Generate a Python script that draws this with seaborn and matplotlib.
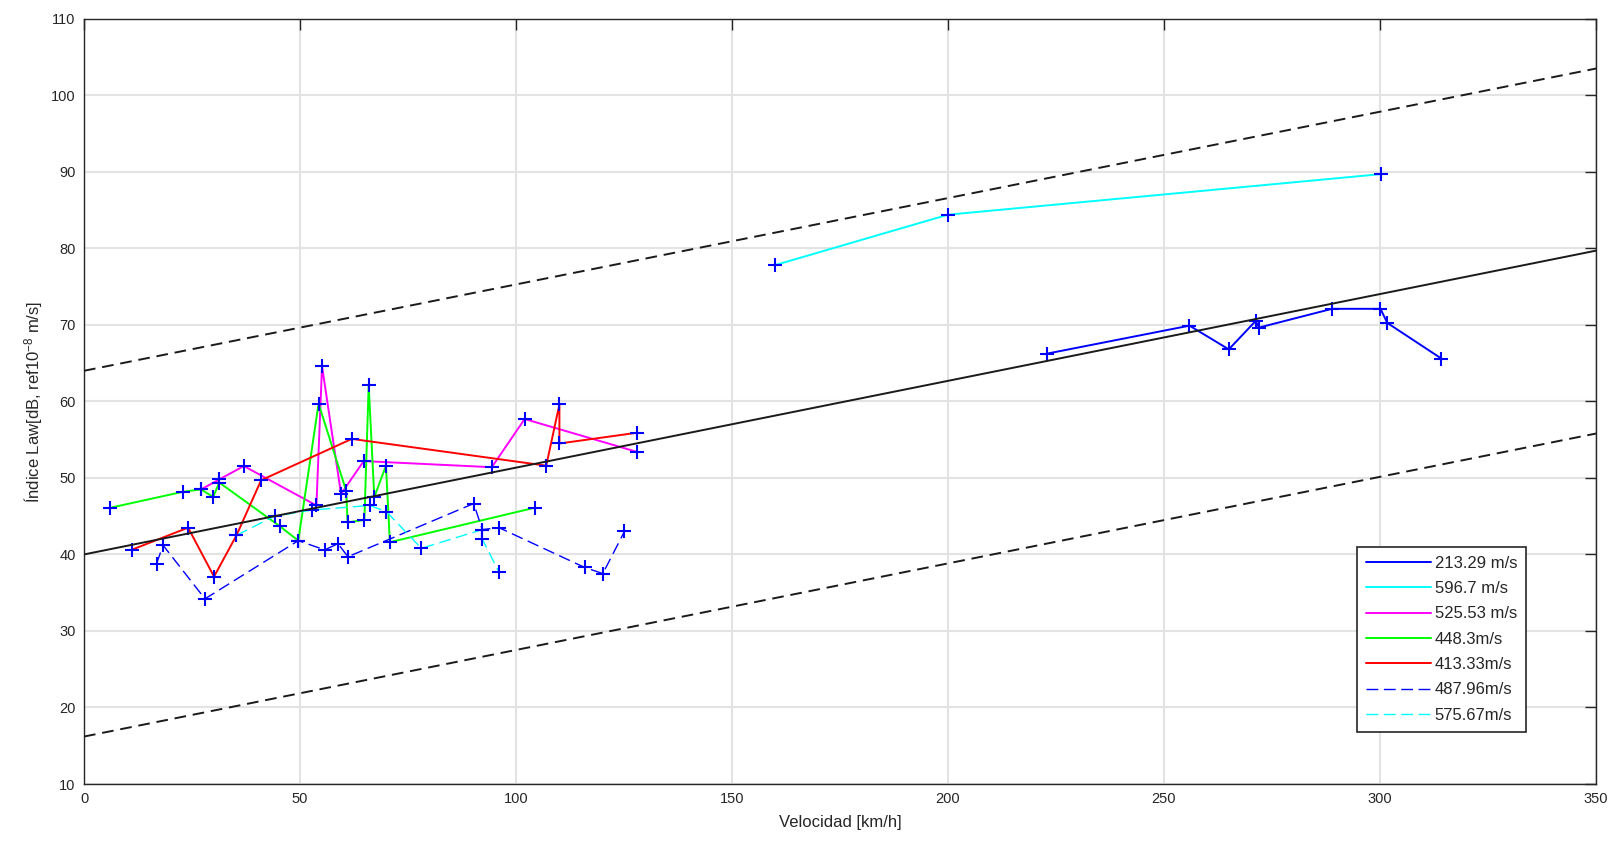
import matplotlib
matplotlib.use("Agg")
import matplotlib.pyplot as plt
import seaborn as sns
import pandas as pd

# ---- data ----
v213_x = [223.0, 255.9, 265.0, 271.2, 272.0, 288.9, 300.1, 301.7, 314.2]
v213_y = [66.25, 69.9, 66.8, 70.5, 69.65, 72.1, 72.1, 70.25, 65.6]

v596_x = [159.9, 200.0, 300.2]
v596_y = [77.8, 84.4, 89.7]

v525_x = [27.1, 31.3, 37.0, 53.8, 55.1, 59.5, 64.75, 94.4, 102.0, 128.0]
v525_y = [48.5, 49.8, 51.55, 46.4, 64.6, 47.9, 52.2, 51.4, 57.7, 53.4]

v448_x = [6.1, 23.0, 27.1, 29.9, 31.3, 45.3, 49.6, 54.3, 60.7, 61.0, 64.9, 65.9, 67.2, 69.9, 70.8, 104.3]
v448_y = [46.1, 48.2, 48.5, 47.5, 49.4, 43.7, 41.8, 59.7, 48.3, 44.2, 44.5, 62.1, 47.5, 51.6, 41.6, 46.1]

v413_x = [11.0, 24.1, 30.1, 35.3, 41.0, 62.0, 107.0, 110.05, 110.05, 128.0]
v413_y = [40.6, 43.5, 37.1, 42.5, 49.7, 55.1, 51.6, 59.6, 54.5, 55.9]

v488_x = [16.8, 18.3, 28.0, 49.6, 55.7, 58.8, 61.1, 90.2, 92.2, 96.05, 115.9, 120.1, 125.1]
v488_y = [38.8, 41.2, 34.2, 41.8, 40.6, 41.4, 39.7, 46.65, 43.25, 43.5, 38.3, 37.5, 43.0]

v576_x = [35.3, 44.1, 52.7, 66.1, 70.0, 78.1, 92.2, 92.2, 96.05]
v576_y = [42.5, 45.0, 45.8, 46.4, 45.6, 40.8, 43.25, 42.0, 37.7]
v576_tail_x = [294.5, 332.0]
v576_tail_y = [30.0, 41.0]

fit_x = [0, 350]
fit_mid = [40.0, 79.7]
fit_up = [64.0, 103.5]
fit_low = [16.2, 55.8]

labels = ["213.29 m/s", "596.7 m/s", "525.53 m/s", "448.3m/s", "413.33m/s", "487.96m/s", "575.67m/s"]
xs = [v213_x, v596_x, v525_x, v448_x, v413_x, v488_x, v576_x]
ys = [v213_y, v596_y, v525_y, v448_y, v413_y, v488_y, v576_y]
colors = ["#0000ff", "#00ffff", "#ff00ff", "#00ff00", "#ff0000", "#0000ff", "#00ffff"]
dashed = [False, False, False, False, False, True, True]

# ---- style ----
sns.set_style("white")
plt.rcParams["font.family"] = ["Liberation Sans", "DejaVu Sans"]
plt.rcParams["mathtext.fontset"] = "custom"
plt.rcParams["mathtext.rm"] = "Liberation Sans"
plt.rcParams["mathtext.it"] = "Liberation Sans"

fig = plt.figure(figsize=(16.17, 8.51), dpi=100)
ax = fig.add_axes([84 / 1617, (851 - 784) / 851, 1512 / 1617, 765.2 / 851])

dash_style = (0, (8.5, 4))
for x, y, c, d, lab in zip(xs, ys, colors, dashed, labels):
    df = pd.DataFrame({"x": x, "y": y})
    sns.lineplot(data=df, x="x", y="y", sort=False, estimator=None, color=c,
                 lw=1.0 if d else 1.4, ax=ax, label=lab, zorder=3,
                 linestyle=dash_style if d else "-")

df_tail = pd.DataFrame({"x": v576_tail_x, "y": v576_tail_y})
sns.lineplot(data=df_tail, x="x", y="y", sort=False, estimator=None, color="#00ffff",
             lw=1.0, linestyle=dash_style, ax=ax, zorder=3, legend=False)

# markers on all measured points
all_x = sum(xs, [])
all_y = sum(ys, [])
sns.scatterplot(x=all_x, y=all_y, marker="+", color="#0000ff", s=115, linewidth=1.5,
                ax=ax, zorder=4, legend=False)

# fit lines
for fy, ls in [(fit_mid, "-"), (fit_up, (0, (6, 3.5))), (fit_low, (0, (6, 3.5)))]:
    sns.lineplot(x=fit_x, y=fy, color="#1a1a1a", lw=1.4, linestyle=ls, ax=ax,
                 zorder=5, legend=False)

ax.set_xlim(0, 350)
ax.set_ylim(10, 110)
ax.set_xticks(range(0, 351, 50))
ax.set_yticks(range(10, 111, 10))
ax.grid(True, color="#e3e3e3", lw=1.5, zorder=0)
ax.set_axisbelow(True)
for sp in ax.spines.values():
    sp.set_color("#262626")
    sp.set_linewidth(1.0)
ax.tick_params(direction="in", length=8, width=1, colors="#262626", labelsize=10.5,
               top=True, right=True, pad=6)
ax.set_xlabel("Velocidad [km/h]", fontsize=12, color="#262626", labelpad=6)
ax.set_ylabel(r"Índice Law[dB, ref10$^{-8}$ m/s]", fontsize=12, color="#262626", labelpad=4)

leg = ax.legend(loc="lower right", bbox_to_anchor=(0.954, 0.068), fontsize=12,
                frameon=True, fancybox=False, edgecolor="#262626", handlelength=3.9,
                borderpad=0.55, labelspacing=0.62, handletextpad=0.2, borderaxespad=0,
                framealpha=1.0)
leg.get_frame().set_linewidth(1.2)
leg.set_zorder(10)

fig.savefig("out.png", dpi=100)
